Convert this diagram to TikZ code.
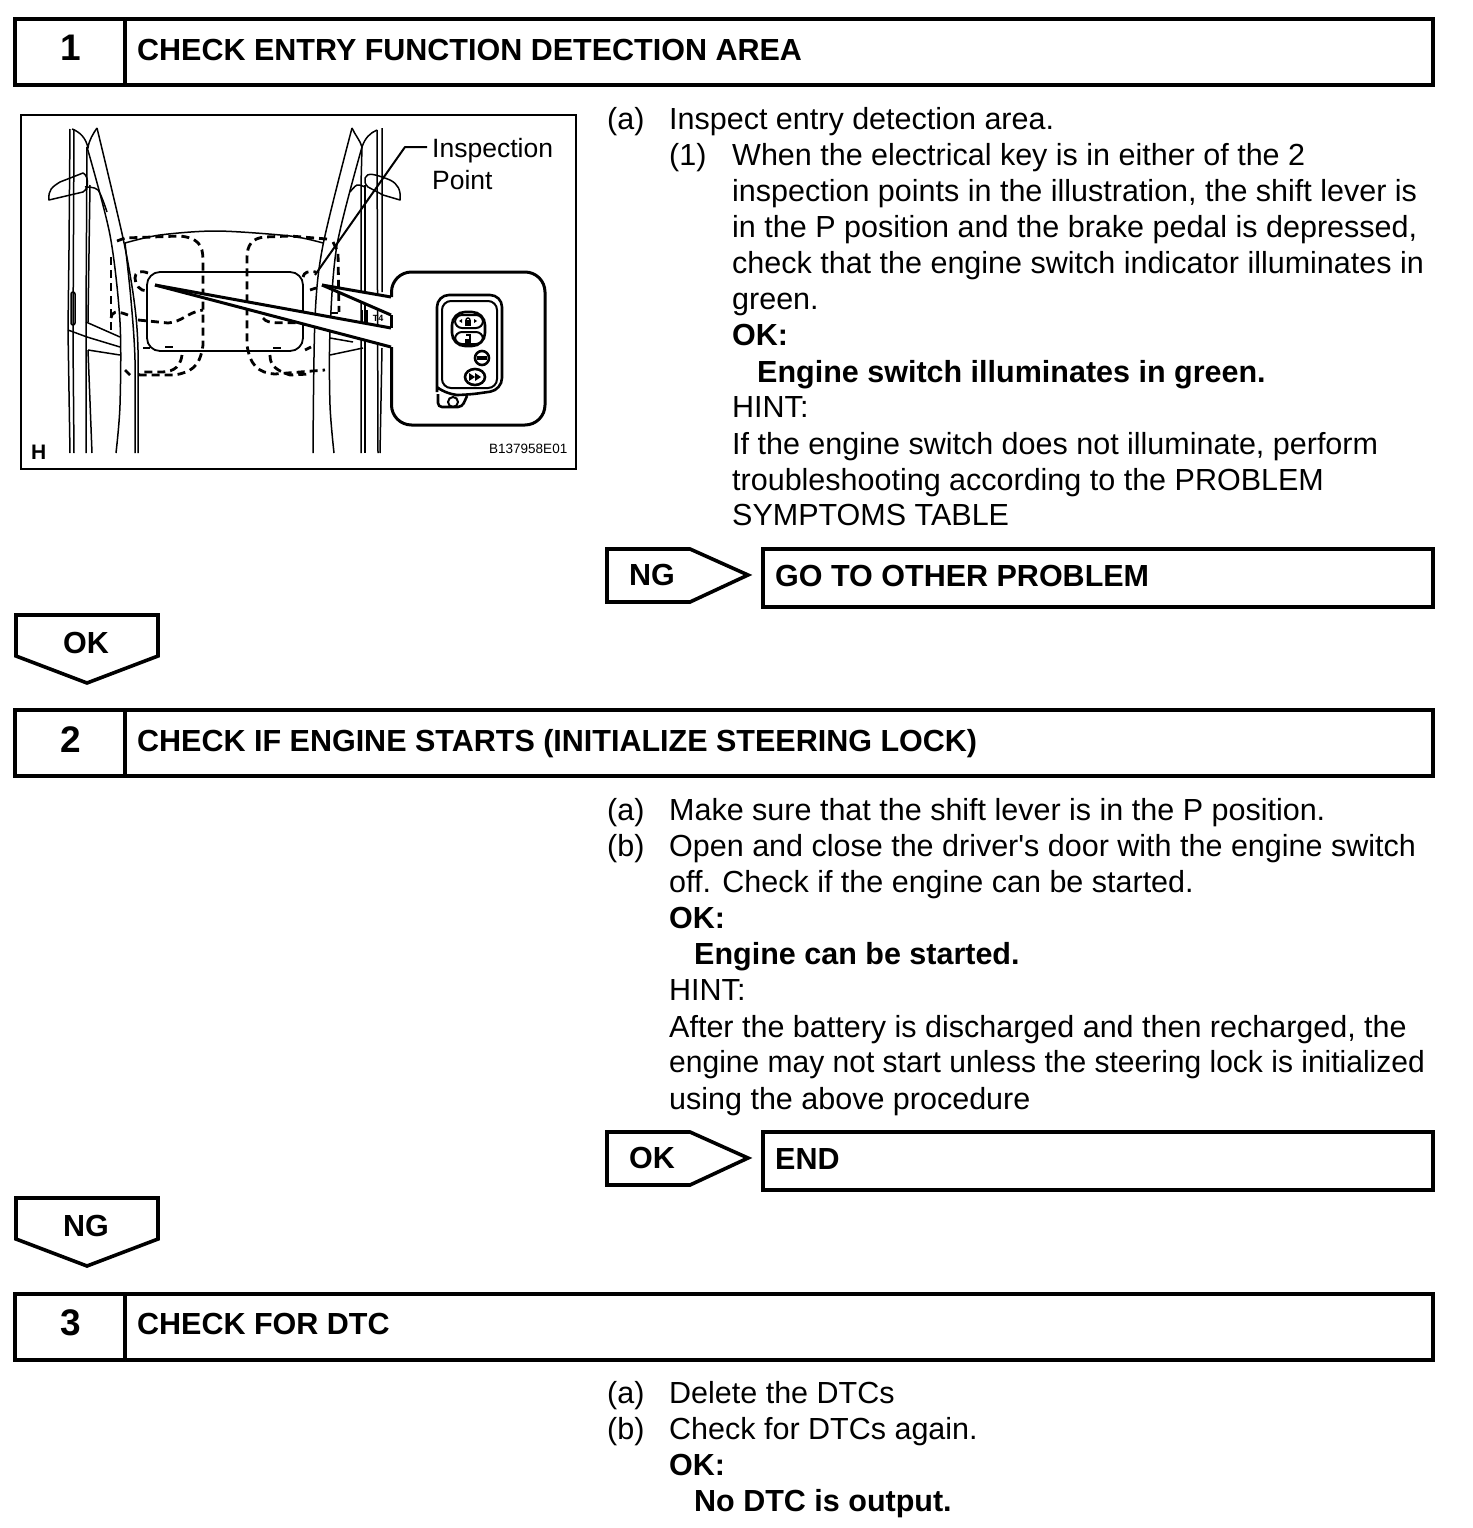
\documentclass[tikz,border=0pt]{standalone}
\usepackage{fontspec}
\setmainfont{Liberation Sans}
\newfontfamily\plainfont{Liberation Sans}
\newcommand{\bodysize}{\fontsize{30.5}{36}\selectfont}
\newcommand{\numsize}{\fontsize{37}{40}\bfseries\selectfont}
\tikzset{
  box/.style={draw=black,line width=4pt,fill=white,line join=miter},
  bodytext/.style={anchor=base west,inner sep=0pt,font=\bodysize},
  boldtext/.style={anchor=base west,inner sep=0pt,font=\bodysize\bfseries},
  numtext/.style={anchor=center,inner sep=0pt,font=\numsize},
  signtext/.style={anchor=center,inner sep=0pt,font=\bodysize\bfseries},
  flag/.style={draw=black,line width=3.6pt,fill=white,line join=miter},
  car/.style={draw=black,line width=1.5pt,line join=round},
  dashline/.style={draw=black,line width=2.8pt,dash pattern=on 8pt off 5pt},
  heavyline/.style={draw=black,line width=3pt,line join=round},
  fobline/.style={draw=black,line width=2pt},
  blob/.style={fill=black,draw=none},
}
\begin{document}
\begin{tikzpicture}[x=1pt,y=-1pt]
\useasboundingbox (0,0) rectangle (1472,1528);
% step headers
\draw[box] (15,19) rectangle (1433,85);
\draw[box] (125,19) -- (125,85);
\node[numtext] (n1) at (71,48) {1};
\node[boldtext] (h1) at (137,60) {CHECK ENTRY FUNCTION DETECTION AREA};
\draw[box] (15,710) rectangle (1433,776);
\draw[box] (125,710) -- (125,776);
\node[numtext] (n2) at (71,740) {2};
\node[boldtext] (h2) at (137,751) {CHECK IF ENGINE STARTS (INITIALIZE STEERING LOCK)};
\draw[box] (15,1294) rectangle (1433,1360);
\draw[box] (125,1294) -- (125,1360);
\node[numtext] (n3) at (71,1323) {3};
\node[boldtext] (h3) at (137,1334) {CHECK FOR DTC};
% result boxes and flags
\draw[flag] (607,549) -- (690,549) -- (748,575) -- (690,602) -- (607,602) -- cycle;
\node[signtext] (f1) at (652,575) {NG};
\draw[box] (763,549) rectangle (1433,607);
\node[boldtext] (r1) at (775,586) {GO TO OTHER PROBLEM};
\draw[flag] (16,615) -- (158,615) -- (158,656) -- (87,683) -- (16,656) -- cycle;
\node[signtext] (f2) at (86,643) {OK};
\draw[flag] (607,1132) -- (690,1132) -- (748,1158) -- (690,1185) -- (607,1185) -- cycle;
\node[signtext] (f3) at (652,1158) {OK};
\draw[box] (763,1132) rectangle (1433,1190);
\node[boldtext] (r2) at (775,1169) {END};
\draw[flag] (16,1198) -- (158,1198) -- (158,1239) -- (87,1266) -- (16,1239) -- cycle;
\node[signtext] (f4) at (86,1226) {NG};
% text 1
\node[bodytext] (a1) at (607,129) {(a)};
\node[bodytext] (a1t) at (669,129) {Inspect entry detection area.};
\node[bodytext] (b1) at (669,165) {(1)};
\node[bodytext] (l1) at (732,165) {When the electrical key is in either of the 2};
\node[bodytext] (l2) at (732,201) {inspection points in the illustration, the shift lever is};
\node[bodytext] (l3) at (732,237) {in the P position and the brake pedal is depressed,};
\node[bodytext] (l4) at (732,273) {check that the engine switch indicator illuminates in};
\node[bodytext] (l5) at (732,309) {green.};
\node[boldtext] (l6) at (732,345) {OK:};
\node[boldtext] (l7) at (757,382) {Engine switch illuminates in green.};
\node[bodytext] (l8) at (732,417) {HINT:};
\node[bodytext] (l9) at (732,454) {If the engine switch does not illuminate, perform};
\node[bodytext] (l10) at (732,490) {troubleshooting according to the PROBLEM};
\node[bodytext] (l11) at (732,525) {SYMPTOMS TABLE};
% text 2
\node[bodytext] (a2) at (607,820) {(a)};
\node[bodytext] (m1) at (669,820) {Make sure that the shift lever is in the P position.};
\node[bodytext] (b2) at (607,856) {(b)};
\node[bodytext] (m2) at (669,856) {Open and close the driver{\plainfont\bodysize'}s door with the engine switch};
\node[bodytext] (m3) at (669,892) {off. Check if the engine can be started.};
\node[boldtext] (m4) at (669,928) {OK:};
\node[boldtext] (m5) at (694,964) {Engine can be started.};
\node[bodytext] (m6) at (669,1000) {HINT:};
\node[bodytext] (m7) at (669,1037) {After the battery is discharged and then recharged, the};
\node[bodytext,xscale=0.984,transform shape] (m8) at (669,1072) {engine may not start unless the steering lock is initialized};
\node[bodytext] (m9) at (669,1109) {using the above procedure};
% text 3
\node[bodytext] (a3) at (607,1403) {(a)};
\node[bodytext] (p1) at (669,1403) {Delete the DTCs};
\node[bodytext] (b3) at (607,1439) {(b)};
\node[bodytext] (p2) at (669,1439) {Check for DTCs again.};
\node[boldtext] (p3) at (669,1475) {OK:};
\node[boldtext] (p4) at (694,1511) {No DTC is output.};
% illustration frame
\draw[draw=black,line width=2.6pt] (21,115) rectangle (576,469);
% left side of car
\draw[car] (70,129) -- (69,250) -- (68,330) -- (70,453);
\draw[car] (74,129) -- (73,340) -- (74,453);
\draw[car] (72,129) .. controls (80,132) and (86,138) .. (88,148) .. controls (89,140) and (93,134) .. (97,128);
\draw[car] plot[smooth] coordinates {(97,128) (123,238) (134,300) (138,350) (138,453)};
\draw[car] plot[smooth] coordinates {(87,147) (110,235) (120,322) (120,405) (116,453)};
\draw[car] plot[smooth] coordinates {(125,243) (131,300) (135,360) (135,453)};
\draw[car] (87,147) -- (86,318) -- (86,453);
\draw[car] (90,185) -- (88,322);
\draw[car] (88,350) -- (92,453);
\draw[car] (49,200) .. controls (48,190) and (52,187) .. (60,182) -- (83,173) .. controls (88,175) and (90,188) .. (83,192) -- cycle;
\draw[car] plot[smooth] coordinates {(85,187) (98,190) (107,212)};
\draw[car,rounded corners=2pt] (71,292) rectangle (75,325);
\draw[car] (68,330) -- (87,337) -- (120,347);
\draw[car] (86,322) -- (120,337);
\draw[car] (88,350) -- (120,355);
% roof and window
\draw[car] plot[smooth] coordinates {(125,243) (160,235) (217,231) (290,236) (323,243)};
\draw[car,rounded corners=13pt,line width=1.8pt] (147,272) rectangle (303,351);
% dashed outlines, left
\draw[dashline] (117,241) -- (125,238) -- (180,236) .. controls (198,238) and (203,245) .. (203,260) -- (203,345) .. controls (200,368) and (190,372) .. (175,375) -- (140,375) -- (136,373);
\draw[dashline] (125,370) -- (130,375);
\draw[dashline] (182,355) .. controls (180,370) and (170,372) .. (160,372) -- (142,372);
\draw[dashline] (111,257) -- (111,332);
\draw[dashline] (111,318) .. controls (112,312) and (115,310) .. (128,315);
\draw[dashline] (138,320) -- (168,323) .. controls (182,322) and (188,312) .. (203,310);
\draw[dashline] (148,273) .. controls (140,270) and (135,272) .. (135,278) .. controls (135,285) and (140,291) .. (147,291);
\draw[dashline] (143,348) -- (150,348) (165,347) -- (177,347);
% dashed outlines, right
\draw[dashline] (327,239) -- (290,236) -- (265,237) .. controls (252,238) and (247,245) .. (247,258) -- (247,345) .. controls (250,365) and (258,373) .. (275,374) -- (325,370);
\draw[dashline] (263,318) .. controls (268,325) and (280,322) .. (303,323);
\draw[dashline] (270,355) .. controls (270,365) and (275,370) .. (290,375) -- (310,374);
\draw[dashline] (333,242) -- (338,252) -- (339,312);
\draw[dashline] (330,313) -- (340,313);
\draw[dashline] (305,350) -- (311,347);
\draw[dashline] (273,348) -- (283,348);
\draw[dashline] (303,277) .. controls (304,272) and (308,271) .. (316,272);
\draw[dashline] (310,290) -- (316,288);
% right side of car
\draw[car] (352,128) .. controls (355,135) and (360,140) .. (362,147) .. controls (365,138) and (370,133) .. (377,130);
\draw[car] plot[smooth] coordinates {(352,128) (323,245) (315,318) (313,453)};
\draw[car] plot[smooth] coordinates {(362,147) (337,245) (330,332) (330,405) (334,453)};
\draw[car] (362,147) -- (361,185) -- (361,453);
\draw[car] (365,185) -- (365,453);
\draw[car] (377,130) -- (378,453);
\draw[car] (382,128) -- (382,292) (382,348) -- (380,453);
\draw[car] (365,178) .. controls (367,172) and (375,174) .. (390,180) .. controls (398,184) and (401,190) .. (400,200) -- (383,195) -- (368,187) .. controls (365,184) and (364,181) .. (365,178);
\draw[car] plot[smooth] coordinates {(350,192) (357,185) (365,187)};
\draw[car] (330,338) -- (353,342);
\draw[car] (330,355) -- (363,348);
% callout wedges
\fill[white] (155,285) -- (391,328) -- (391,347) -- cycle;
\fill[white] (322,285) -- (391,297) -- (391,315) -- cycle;
\draw[heavyline] (155,285) -- (391,328);
\draw[heavyline] (155,285) -- (391,347);
\draw[heavyline] (322,285) -- (391,297);
\draw[heavyline] (322,285) -- (391,315);
% leader
\draw[car,line width=2pt] (315,275) -- (405,147) -- (427,147);
% small text on car
\node[anchor=center,inner sep=0pt,font=\fontsize{9}{9}\bfseries\selectfont] (t4) at (378,318) {T4};
\draw[car] (362,310) -- (362,322) (367,310) -- (367,322);
% inset box
\fill[white,rounded corners=20pt] (392,272) rectangle (545,425);
\draw[heavyline,rounded corners=20pt] (391.5,297) -- (391.5,272) -- (545,272) -- (545,425) -- (391.5,425) -- (391.5,347);
\draw[heavyline] (391.5,315) -- (391.5,328);
% key fob
\draw[fobline,rounded corners=12pt,line width=2.6pt] (437,392) -- (437,295) -- (502,295) -- (502,390) -- (467,395) -- (447,395) -- (437,387);
\draw[fobline,rounded corners=9pt] (442,301) rectangle (497,388);
\draw[fobline,line width=2.6pt,rounded corners=4pt] (438,394) -- (438,407) -- (462,407) -- (467,396);
\draw[fobline] (453,402) circle[radius=5pt];
\draw[fobline,line width=2.6pt,rounded corners=13pt] (452,312) rectangle (485,346);
\draw[fobline,rounded corners=7pt] (455,315) rectangle (483,328);
\draw[fobline,rounded corners=7pt] (455,332) rectangle (483,344);
\draw[fobline,line width=2.6pt] (482,358) circle[radius=7pt];
\draw[fobline,line width=2.6pt] (475,377) ellipse[x radius=10pt,y radius=8pt];
\fill[blob] (465,320) rectangle (471,326);
\draw[fobline,line width=1.4pt] (470,320) arc[start angle=0,end angle=180,radius=2pt];
\fill[blob] (459,321) -- (462,319) -- (462,323) -- cycle;
\fill[blob] (477,321) -- (474,319) -- (474,323) -- cycle;
\fill[blob] (465,339) rectangle (471,343);
\draw[fobline,line width=1.4pt] (470,339) -- (470,335) -- (466,335);
\fill[blob] (477,356) rectangle (487,360);
\fill[blob] (469,373) -- (475,377) -- (469,381) -- cycle;
\fill[blob] (475,373) -- (481,377) -- (475,381) -- cycle;
% illustration labels
\node[anchor=base west,inner sep=0pt,font=\fontsize{26.5}{30}\selectfont] (i1) at (432,157) {Inspection};
\node[anchor=base west,inner sep=0pt,font=\fontsize{26.5}{30}\selectfont] (i2) at (432,189) {Point};
\node[anchor=base west,inner sep=0pt,font=\fontsize{13.5}{15}\selectfont] (code) at (489,453) {B137958E01};
\node[anchor=base west,inner sep=0pt,font=\fontsize{21}{22}\bfseries\selectfont] (hh) at (31,459) {H};
\end{tikzpicture}
\end{document}
